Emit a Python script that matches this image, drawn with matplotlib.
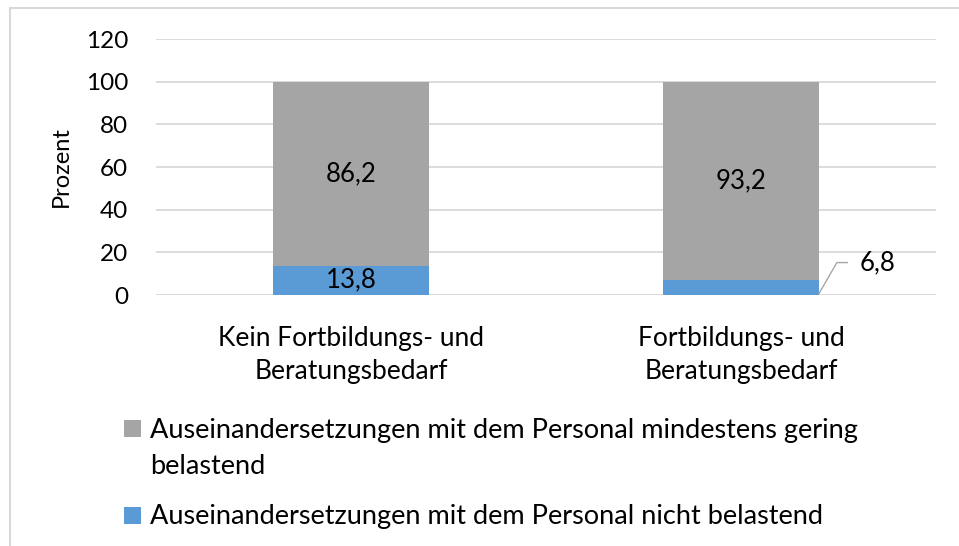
import matplotlib
matplotlib.use("Agg")
import matplotlib.pyplot as plt
import numpy as np
from matplotlib.patches import Rectangle

# --- data ---
categories = ["Kein Fortbildungs- und\nBeratungsbedarf", "Fortbildungs- und\nBeratungsbedarf"]
nicht_belastend = [13.8, 6.8]
gering_belastend = [86.2, 93.2]
series_labels = [
    "Auseinandersetzungen mit dem Personal mindestens gering\nbelastend",
    "Auseinandersetzungen mit dem Personal nicht belastend",
]
y_ticks = [0, 20, 40, 60, 80, 100, 120]

GRAY = "#A5A5A5"
BLUE = "#5B9BD5"
GRID = "#D9D9D9"

plt.rcParams["font.family"] = ["Lato", "DejaVu Sans"]

W, H = 959, 546
fig = plt.figure(figsize=(W / 100, H / 100), dpi=100)
ax = fig.add_axes([156 / W, (H - 295) / H, (936 - 156) / W, 256 / H])

# chart frame (only top/left visible in the crop)
fig.patches.append(Rectangle((10 / W, -0.05), 1.2, (H - 8) / H + 0.05,
                             transform=fig.transFigure, fill=False,
                             edgecolor=GRID, linewidth=1.5))

x = np.arange(len(categories))
width = 0.4
ax.bar(x, nicht_belastend, width, color=BLUE, zorder=3)
ax.bar(x, gering_belastend, width, bottom=nicht_belastend, color=GRAY, zorder=3)

ax.set_xlim(-0.5, len(categories) - 0.5)
ax.set_ylim(0, 120)
ax.set_yticks(y_ticks)
ax.set_yticklabels([str(t) for t in y_ticks], fontsize=17.5)
ax.set_xticks(x)
ax.set_xticklabels(categories, fontsize=19)
for t in ax.get_xticklabels():
    t.set_linespacing(1.42)
ax.tick_params(axis="both", length=0)
ax.tick_params(axis="y", pad=20)
ax.tick_params(axis="x", pad=22)
ax.grid(axis="y", color=GRID, linewidth=1.3, zorder=0)
for s in ax.spines.values():
    s.set_visible(False)
ax.set_ylabel("Prozent", fontsize=17)
ax.yaxis.set_label_coords((72 - 156) / 780, 0.5)


def fmt(v):
    return f"{v:.1f}".replace(".", ",")


# data labels
for i in range(len(categories)):
    ax.text(x[i], nicht_belastend[i] + gering_belastend[i] / 2, fmt(gering_belastend[i]),
            ha="center", va="center", fontsize=18.5, zorder=4)
ax.text(x[0], nicht_belastend[0] / 2, fmt(nicht_belastend[0]),
        ha="center", va="center", fontsize=18.5, zorder=4)
ax.annotate(fmt(nicht_belastend[1]), xy=(x[1] + width / 2, nicht_belastend[1] / 10),
            xytext=(29.5, 22.3), textcoords="offset points", ha="left", va="center",
            fontsize=18.5, zorder=4,
            arrowprops=dict(arrowstyle="-", color="#A6A6A6", lw=1,
                            connectionstyle="angle,angleA=0,angleB=60,rad=0",
                            shrinkA=7, shrinkB=0))

# legend below the plot (square aligned with the first text line)
legend_colors = [GRAY, BLUE]
first_baselines = [437, 524]
line_step = 37
for lab, col, yb in zip(series_labels, legend_colors, first_baselines):
    fig.patches.append(Rectangle((124 / W, (H - yb) / H), 17 / W, 17 / H,
                                 transform=fig.transFigure, facecolor=col,
                                 edgecolor="none"))
    last_baseline = yb + lab.count("\n") * line_step
    fig.text(150 / W, (H - last_baseline) / H, lab, fontsize=19.5, ha="left",
             va="baseline", linespacing=1.54)

fig.savefig("out.png", dpi=100)
